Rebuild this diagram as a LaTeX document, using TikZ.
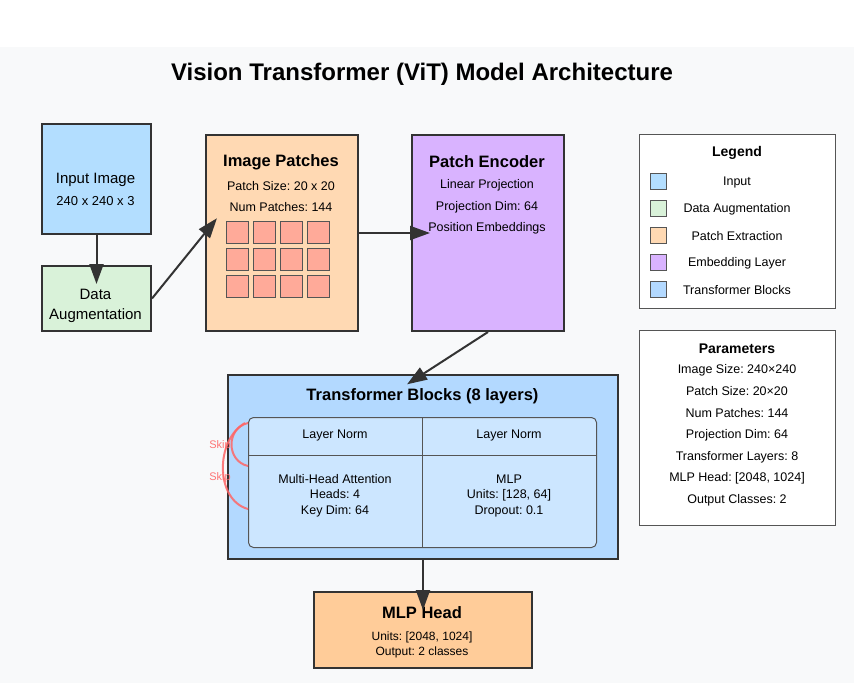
\documentclass[tikz,border=0pt]{standalone}
\usepackage{fontspec}
\setmainfont{Liberation Sans}
\usetikzlibrary{arrows.meta}
\definecolor{bggray}{RGB}{248,249,250}
\definecolor{dark}{RGB}{51,51,51}
\definecolor{midgray}{RGB}{85,85,85}
\definecolor{cinput}{RGB}{179,222,255}
\definecolor{caug}{RGB}{217,242,217}
\definecolor{cpatch}{RGB}{255,217,179}
\definecolor{csq}{RGB}{255,170,153}
\definecolor{cenc}{RGB}{217,179,255}
\definecolor{ctrans}{RGB}{179,217,255}
\definecolor{cinner}{RGB}{204,230,255}
\definecolor{cmlp}{RGB}{255,204,153}
\definecolor{cskip}{RGB}{255,102,102}
\newcommand{\fsz}[1]{\fontsize{#1}{#1}\selectfont}
\frenchspacing
\tikzset{
  box/.style={draw=dark, line width=2pt, inner sep=0pt, anchor=north west},
  txt/.style={inner sep=0pt, text=black, font=\fsz{13}, yshift=-1.5pt},
  ttl/.style={inner sep=0pt, text=black, font=\bfseries\fsz{16.5}, yshift=-1pt},
  conn/.style={draw=dark, line width=2pt, arrows={-Triangle[length=20pt,width=14pt]}, shorten >=-19pt},
  sq/.style={draw=midgray, line width=1pt, fill=csq, minimum width=22pt, minimum height=22pt, inner sep=0pt, anchor=north west},
  sw/.style={draw=midgray, line width=0.8pt, minimum width=16pt, minimum height=16pt, inner sep=0pt},
  skipline/.style={draw=cskip, draw opacity=0.85, line width=2pt},
  skiptxt/.style={inner sep=0pt, text=cskip, text opacity=0.9, font=\fsz{11}},
  panel/.style={draw=midgray, line width=1pt, fill=white, inner sep=0pt, anchor=north west},
}
\begin{document}
\begin{tikzpicture}[x=1pt,y=-1pt]
\useasboundingbox (0,0) rectangle (854,683);
\fill[white] (0,0) rectangle (854,47);
\fill[bggray] (0,47) rectangle (854,683);

\node[inner sep=0pt, font=\bfseries\fsz{24}, yshift=-2pt] (title) at (422,72) {Vision Transformer (ViT) Model Architecture};

% Input
\node[box, fill=cinput, minimum width=109pt, minimum height=110pt] (input) at (41,123) {};
\node[txt, font=\fsz{15}] (inl1) at (95.5,178) {Input Image};
\node[txt] (inl2) at (95.5,200) {240 x 240 x 3};

% Data augmentation
\node[box, fill=caug, minimum width=109pt, minimum height=65pt] (aug) at (41,265) {};
\node[txt, font=\fsz{15}] (augl1) at (95.5,293) {Data};
\node[txt, font=\fsz{15}] (augl2) at (95.5,314) {Augmentation};

% Image patches
\node[box, fill=cpatch, minimum width=152pt, minimum height=196pt] (patches) at (205,134) {};
\node[ttl] (patl1) at (281,161) {Image Patches};
\node[txt, font=\fsz{12.5}] (patl2) at (281,185) {Patch Size: 20 x 20};
\node[txt, font=\fsz{12.5}] (patl3) at (281,206) {Num Patches: 144};
\foreach \i in {0,1,2,3}{
  \foreach \j in {0,1,2}{
    \node[sq] (p-\i-\j) at ({226+27*\i},{221+27*\j}) {};
  }
}

% Patch encoder
\node[box, fill=cenc, minimum width=152pt, minimum height=196pt] (enc) at (411,134) {};
\node[ttl] (encl1) at (487,161) {Patch Encoder};
\node[txt, font=\fsz{12.5}] (encl2) at (487,184) {Linear Projection};
\node[txt, font=\fsz{12.5}] (encl3) at (487,206) {Projection Dim: 64};
\node[txt, font=\fsz{12.5}] (encl4) at (487,227) {Position Embeddings};

% Transformer blocks
\node[box, fill=ctrans, minimum width=390pt, minimum height=184pt] (trans) at (227,374) {};
\node[ttl] (transl) at (422.5,395) {Transformer Blocks (8 layers)};
\node[draw=midgray, line width=1pt, fill=cinner, rounded corners=5pt, inner sep=0pt, anchor=north west, minimum width=348pt, minimum height=130pt] (inner) at (248,417) {};
\coordinate (divtop) at (422,417);
\coordinate (divbot) at (422,547);
\coordinate (hl) at (248,455);
\coordinate (hr) at (596,455);
\draw[midgray, line width=1pt] (divtop) -- (divbot);
\draw[midgray, line width=1pt] (hl) -- (hr);
\node[txt, font=\fsz{12.5}] (ln1) at (335,434) {Layer Norm};
\node[txt, font=\fsz{12.5}] (ln2) at (509,434) {Layer Norm};
\node[txt, font=\fsz{12.5}, align=center] (mha) at (335,494) {Multi-Head Attention\\[3pt]Heads: 4\\[3pt]Key Dim: 64};
\node[txt, font=\fsz{12.5}, align=center] (mlp) at (509,494) {MLP\\[3pt]Units: [128, 64]\\[3pt]Dropout: 0.1};

% Skip connections
\coordinate (s1a) at (248,423);
\coordinate (s1b) at (248,466);
\coordinate (s2a) at (245,423);
\coordinate (s2b) at (248,509);
\draw[skipline] (s1a) .. controls (226,428) and (226,461) .. (s1b);
\draw[skipline] (s2a) .. controls (215,440) and (215,500) .. (s2b);
\node[skiptxt] (sk1) at (220,446) {Skip};
\node[skiptxt] (sk2) at (220,478) {Skip};

% MLP head
\node[box, fill=cmlp, minimum width=218pt, minimum height=76pt] (head) at (313,591) {};
\node[ttl] (headl1) at (422,612) {MLP Head};
\node[txt, font=\fsz{12}] (headl2) at (422,636) {Units: [2048, 1024]};
\node[txt, font=\fsz{12}] (headl3) at (422,651) {Output: 2 classes};

% Connectors
\draw[conn] (input.south) -- (aug.north);
\draw[conn] (aug.east) -- (patches.west);
\draw[conn] (patches.east) -- (enc.west);
\draw[conn] (enc.south) -- (trans.north);
\draw[conn] (trans.south) -- (head.north);

% Legend
\node[panel, minimum width=196pt, minimum height=174pt] (legend) at (639,134) {};
\node[inner sep=0pt, font=\bfseries\fsz{14}, yshift=-1.5pt] (legt) at (737,151) {Legend};
\foreach \c/\t/\y [count=\k] in {cinput/Input/181, caug/Data Augmentation/208, cpatch/Patch Extraction/235, cenc/Embedding Layer/262, ctrans/Transformer Blocks/289}{
  \node[sw, fill=\c] (sw\k) at (658,\y) {};
  \node[txt, font=\fsz{12.5}] (lg\k) at (737,\y) {\t};
}

% Parameters
\node[panel, minimum width=196pt, minimum height=195pt] (params) at (639,330) {};
\node[inner sep=0pt, font=\bfseries\fsz{14}, yshift=-1.5pt] (part) at (737,347) {Parameters};
\foreach \t/\y [count=\k] in {Image Size: 240×240/369, Patch Size: 20×20/390, Num Patches: 144/412, Projection Dim: 64/434, Transformer Layers: 8/456, {MLP Head: [2048, 1024]}/477, Output Classes: 2/499}{
  \node[txt, font=\fsz{12.5}] (pr\k) at (737,\y) {\t};
}
\end{tikzpicture}
\end{document}
